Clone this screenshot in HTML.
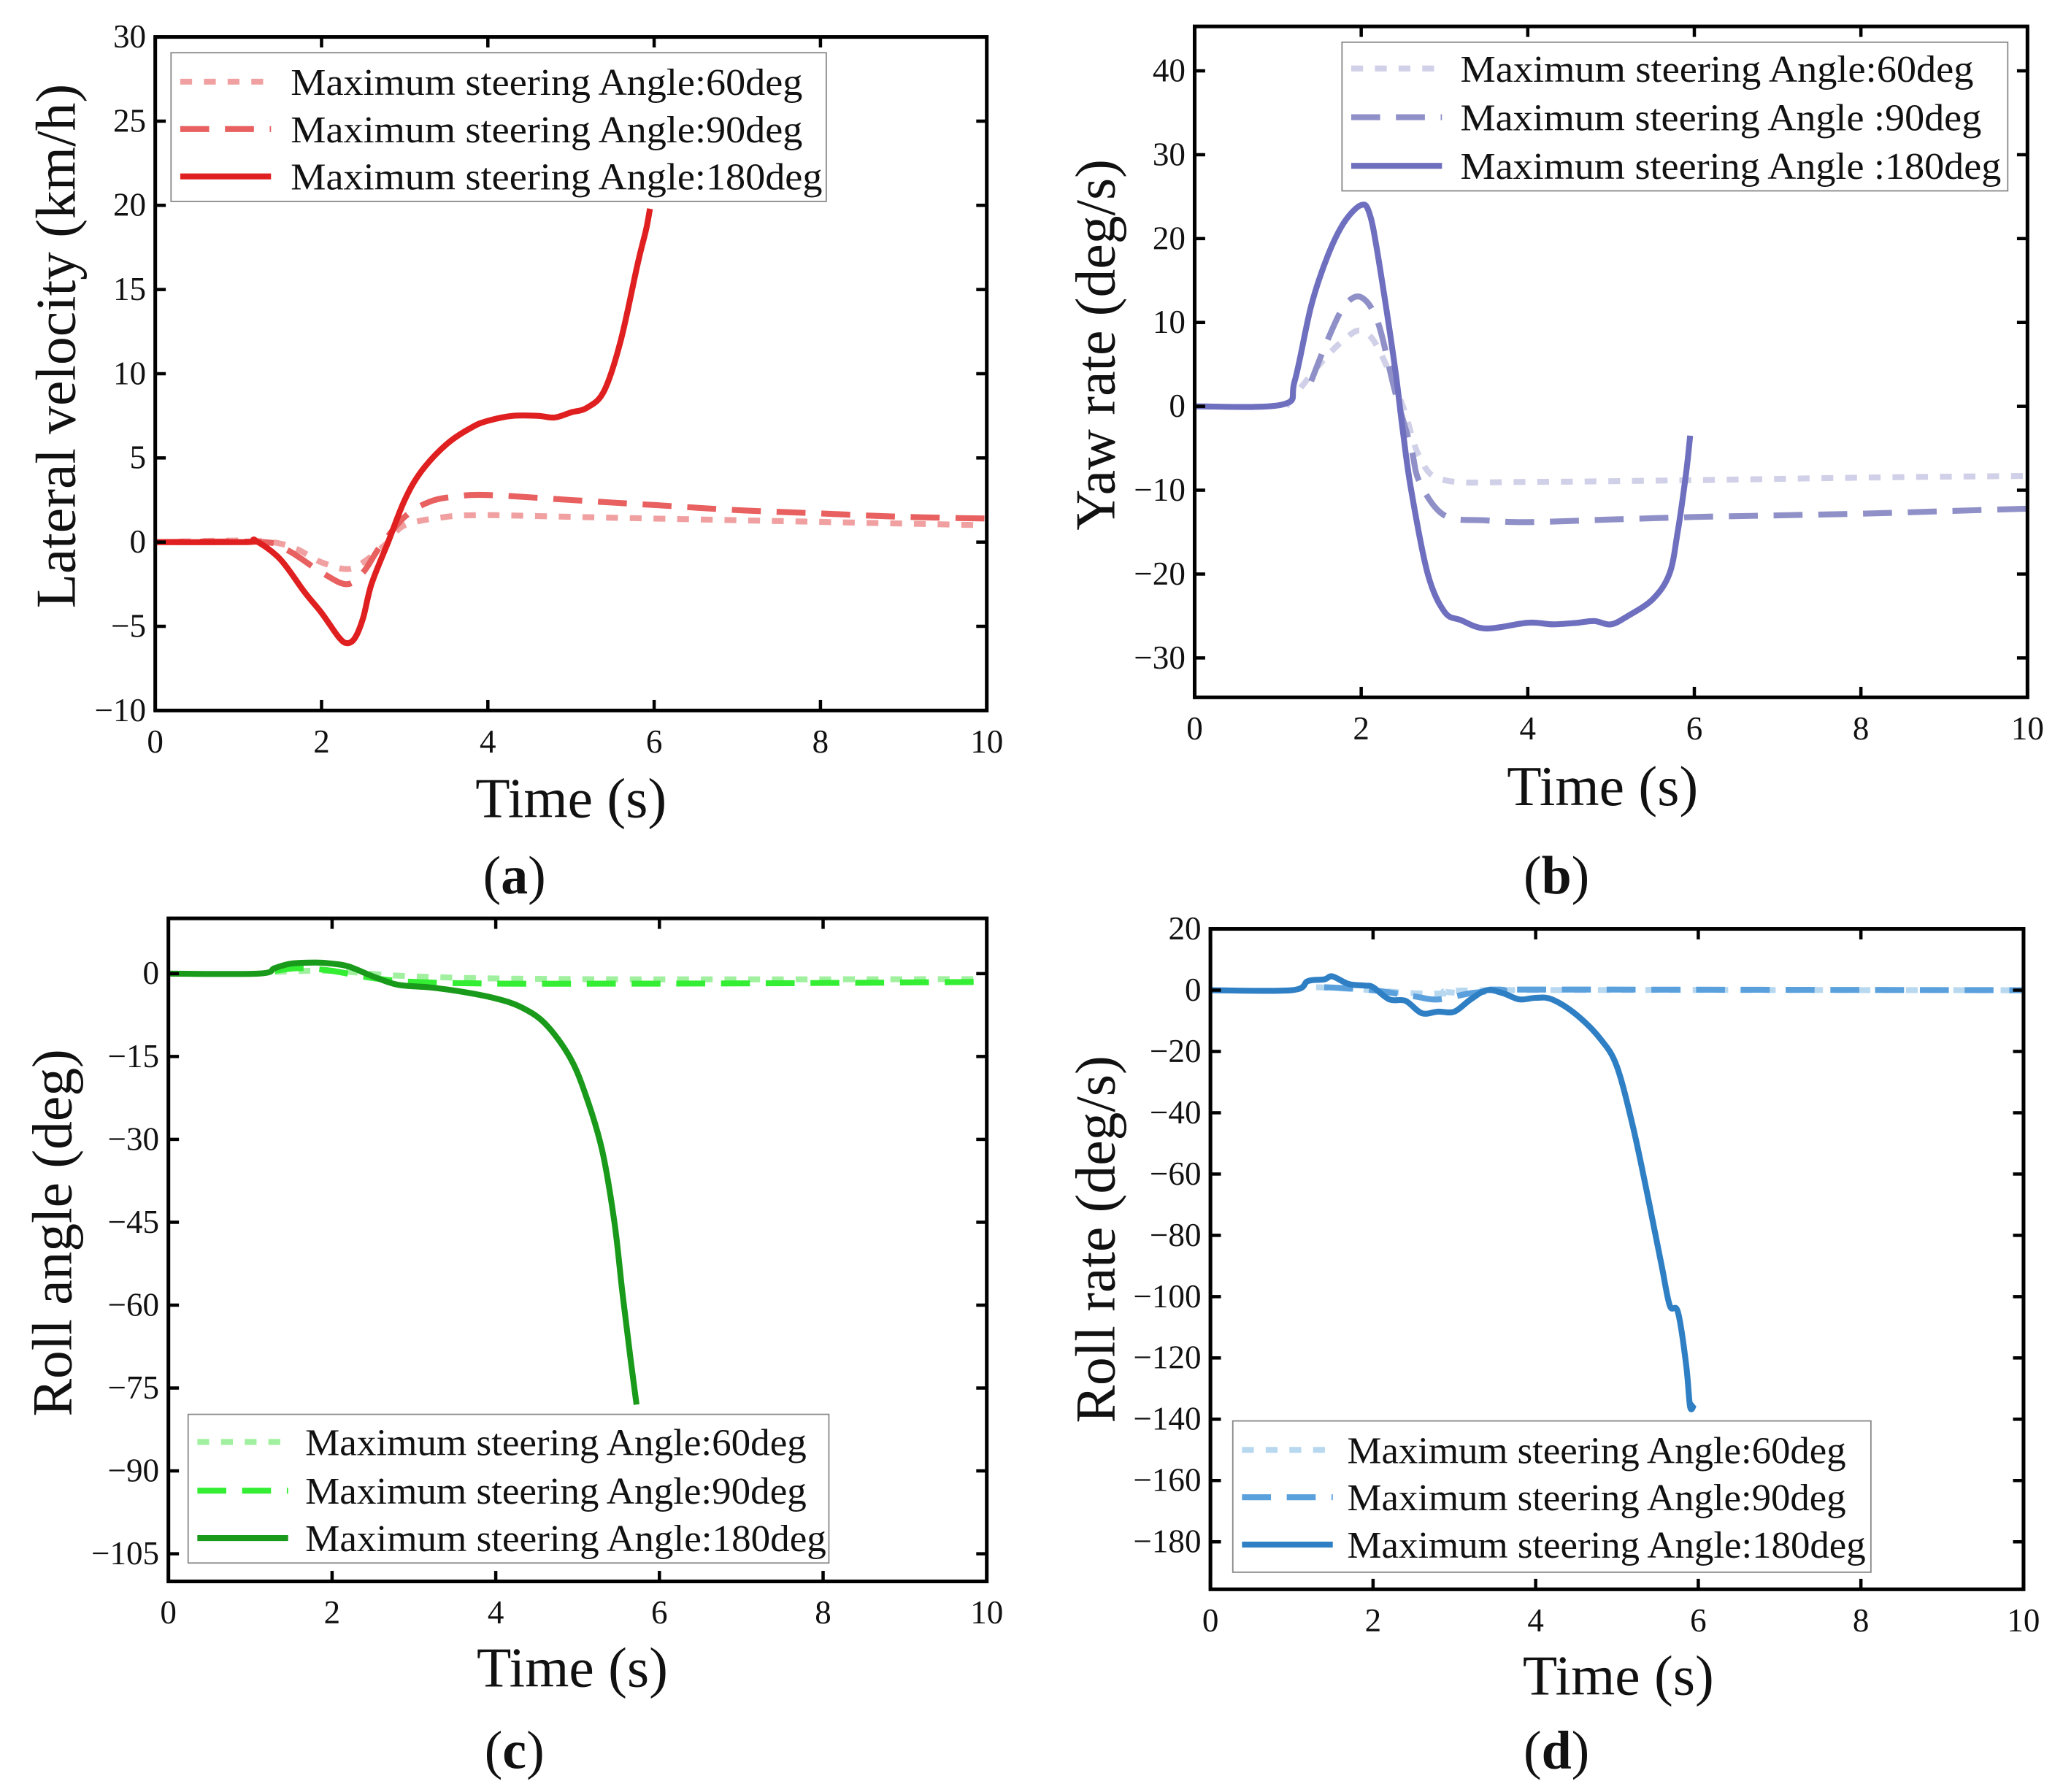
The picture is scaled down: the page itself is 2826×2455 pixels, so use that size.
<!DOCTYPE html>
<html><head><meta charset="utf-8"><style>
html,body{margin:0;padding:0;background:#fff}
svg{display:block}
text{font-family:"Liberation Serif",serif;fill:#111}
</style></head><body>
<svg id="fig" width="2826" height="2455" viewBox="0 0 1568 1362" xmlns="http://www.w3.org/2000/svg"></svg>
<script>
// ---- data ----
const aT180=[0,1.1,1.2,1.5,1.8,2.0,2.2,2.3,2.4,2.5,2.6,2.8,3.0,3.2,3.5,3.8,4.0,4.3,4.6,4.8,5.0,5.2,5.4,5.6,5.8,5.9,5.95];
const aV180=[0,0,0.1,-1,-3,-4.2,-5.6,-6,-5.7,-4.5,-2.5,0,2.5,4.2,5.8,6.8,7.2,7.5,7.5,7.4,7.7,8,9,12,16.5,18.5,19.8];
const aT90=[0,1.3,1.6,2.0,2.3,2.5,2.7,3.0,3.3,3.6,4.0,5,6,7,8,9,10];
const aV90=[0,0,-0.5,-1.8,-2.5,-1.8,-0.3,1.5,2.4,2.7,2.8,2.5,2.2,1.9,1.7,1.5,1.4];
const aT60=[0,1.4,2.0,2.3,2.5,2.8,3.0,3.5,4,5,6,7,8,9,10];
const aV60=[0,0,-1.2,-1.6,-1.2,0,1.0,1.5,1.6,1.5,1.4,1.3,1.2,1.1,1.0];

const bT180=[0,1.05,1.2,1.4,1.6,1.8,2.0,2.1,2.2,2.4,2.5,2.6,2.8,3.0,3.2,3.5,4.0,4.3,4.6,4.8,5.0,5.2,5.5,5.7,5.8,5.9,5.95];
const bV180=[0,0.2,3,12,18,22,24,23,18,5,-3,-10,-20,-24.5,-25.5,-26.5,-25.8,-26,-25.8,-25.6,-26,-25,-23,-20,-15,-8,-3.5];
const bT90=[1.4,1.6,1.8,2.0,2.2,2.4,2.6,2.7,3.0,3.5,4,5,6,7,8,9,10];
const bV90=[3,8,12,13,10,2,-5,-9,-13,-13.6,-13.8,-13.5,-13.2,-13,-12.8,-12.5,-12.2];
const bT60=[1.1,1.5,1.8,2.0,2.2,2.5,2.7,3.0,4,6,8,10];
const bV60=[0,5,8,9,7,0,-6,-8.8,-9,-8.8,-8.5,-8.3];

const cT180=[0,1.1,1.3,1.5,1.8,2.0,2.2,2.5,2.8,3.2,3.6,4.0,4.3,4.6,4.9,5.1,5.3,5.45,5.55,5.65,5.72];
const cV180=[0,0,1,1.8,2,1.8,1.3,-0.5,-2,-2.5,-3.3,-4.5,-6,-9,-15,-22,-32,-45,-58,-70,-78];
const cT90=[1.3,1.6,2.0,2.5,3,4,6,8,10];
const cV90=[0.5,1,0.5,-0.8,-1.5,-1.8,-1.8,-1.7,-1.5];
const cT60=[1.3,2,3,5,10];
const cV60=[0.3,0.5,-0.5,-1,-1];

const dT180=[0,1.0,1.2,1.4,1.5,1.7,1.9,2.0,2.2,2.4,2.6,2.8,3.0,3.2,3.4,3.6,3.8,4.0,4.2,4.5,4.8,5.0,5.2,5.4,5.55,5.65,5.75,5.85,5.9,5.95];
const dV180=[0,0,3,3.5,4.5,2,1.5,1,-3,-3.5,-7.5,-7,-7,-3,0,-1,-3,-2.5,-3,-8,-16,-25,-45,-70,-90,-103,-105,-122,-136,-135];
const dT90=[1.4,2,2.5,2.8,3.2,3.6,4,10];
const dV90=[1,0,-2,-3,-1,0,0.2,0];
const dT60=[1.3,2,2.5,3,3.5,10];
const dV60=[1,0,-1,-1,0,0];

const xTicks=[0,2,4,6,8,10];
const aYTicks=[-10,-5,0,5,10,15,20,25,30];
const bYTicks=[-30,-20,-10,0,10,20,30,40];
const cYTicks=[0,-15,-30,-45,-60,-75,-90,-105];
const dYTicks=[20,0,-20,-40,-60,-80,-100,-120,-140,-160,-180];
const legLabels=["Maximum steering Angle:60deg","Maximum steering Angle:90deg","Maximum steering Angle:180deg"];
const legLabelsB=["Maximum steering Angle:60deg","Maximum steering Angle :90deg","Maximum steering Angle :180deg"];

const NS="http://www.w3.org/2000/svg";
const svg=document.getElementById('fig');
function mk(tag,attrs,parent){const e=document.createElementNS(NS,tag);for(const k in attrs)e.setAttribute(k,attrs[k]);(parent||svg).appendChild(e);return e;}
function fmt(v){return v<0?'\u2212'+(-v):String(v);}
function smooth(pts){
  let d='M'+pts[0][0].toFixed(1)+','+pts[0][1].toFixed(1);
  for(let i=0;i<pts.length-1;i++){
    const p0=pts[Math.max(0,i-1)],p1=pts[i],p2=pts[i+1],p3=pts[Math.min(pts.length-1,i+2)];
    const c1=[p1[0]+(p2[0]-p0[0])/6,p1[1]+(p2[1]-p0[1])/6];
    const c2=[p2[0]-(p3[0]-p1[0])/6,p2[1]-(p3[1]-p1[1])/6];
    d+=' C'+c1.map(v=>v.toFixed(1))+' '+c2.map(v=>v.toFixed(1))+' '+p2.map(v=>v.toFixed(1));
  }
  return d;
}

function panel(p){
  const g=mk('g',{});
  
  
  const sx=v=>p.x0+(v-0)/(10-0)*(p.x1-p.x0);
  const sy=v=>p.yTop+(p.yMax-v)/(p.yMax-p.yMin)*(p.yBot-p.yTop);
  p.series.forEach((s,i)=>{
    const pts=s.t.map((t,j)=>[sx(t),sy(s.v[j])]);
    const path=mk('path',{d:smooth(pts),fill:'none',stroke:s.color,'stroke-width':s.w,'stroke-dasharray':s.dash||'none','stroke-linejoin':'round'},g);
    
    
  });
  const fr=mk('rect',{x:p.x0,y:p.yTop,width:p.x1-p.x0,height:p.yBot-p.yTop,fill:'none',stroke:'#000','stroke-width':2.8},g);
  
  
  xTicks.forEach(t=>{
    const x=sx(t);
    mk('line',{x1:x,x2:x,y1:p.yBot,y2:p.yBot-8,stroke:'#000','stroke-width':2.5},g);
    mk('line',{x1:x,x2:x,y1:p.yTop,y2:p.yTop+8,stroke:'#000','stroke-width':2.5},g);
    const tx=mk('text',{x:x,y:p.yBot+32,'text-anchor':'middle','font-size':25},g);
    tx.textContent=String(t);
    
    
  });
  p.yTicks.forEach(t=>{
    const y=sy(t);
    mk('line',{x1:p.x0,x2:p.x0+8,y1:y,y2:y,stroke:'#000','stroke-width':2.5},g);
    mk('line',{x1:p.x1,x2:p.x1-8,y1:y,y2:y,stroke:'#000','stroke-width':2.5},g);
    const ty=mk('text',{x:p.x0-7,y:y+8,'text-anchor':'end','font-size':25},g);
    ty.textContent=fmt(t);
    
    
  });
  const xt=mk('text',{x:p.xtx,y:p.xty,'text-anchor':'middle','font-size':43},g);
  xt.textContent='Time (s)';
  
  
  const yt=mk('text',{x:0,y:0,'text-anchor':'middle','font-size':43,transform:`translate(${p.ytx},${p.yty}) rotate(-90)`},g);
  yt.textContent=p.ytitle;
  
  
  const lb=mk('text',{x:p.labx,y:p.laby,'text-anchor':'middle','font-size':41},g);
  lb.innerHTML='(<tspan font-weight="bold">'+p.label+'</tspan>)';
  
  
  const L=p.leg;
  const lg=mk('g',{},g);
  
  
  mk('rect',{x:L.x,y:L.y,width:L.w,height:L.h,fill:'#fff',stroke:'#888','stroke-width':1},lg);
  p.series.forEach((s,i)=>{
    const yy=L.ys[i];
    const ll=mk('line',{x1:L.x+7,x2:L.x+76,y1:yy,y2:yy,stroke:s.color,'stroke-width':s.w,'stroke-dasharray':s.dash||'none'},lg);
    
    
    const lt=mk('text',{x:L.x+L.tx,y:yy+10,'font-size':29,textLength:L.tl[i],lengthAdjust:'spacingAndGlyphs'},lg);
    lt.textContent=p.labels[i];
    
    
  });
}

panel({name:'panel-a-lateral-velocity',x0:118,x1:750,yTop:28,yBot:540,yMin:-10,yMax:30,yTicks:aYTicks,
  ytitle:'Lateral velocity (km/h)',ytx:57,yty:263,xtx:434,xty:621,label:'a',labx:391,laby:679,labels:legLabels,
  leg:{x:130,y:40,w:498,h:113,ys:[62,98,134],tx:91,tl:[389,389,404]},
  series:[{name:'series-60deg',t:aT60,v:aV60,color:'#f0a0a0',w:4.5,dash:'9 9'},
          {name:'series-90deg',t:aT90,v:aV90,color:'#e86060',w:4.5,dash:'22 12'},
          {name:'series-180deg',t:aT180,v:aV180,color:'#e02020',w:4.5}]});
panel({name:'panel-b-yaw-rate',x0:908,x1:1541,yTop:20,yBot:530,yMin:-34.7,yMax:45.3,yTicks:bYTicks,
  ytitle:'Yaw rate (deg/s)',ytx:847,yty:262,xtx:1218,xty:612,label:'b',labx:1183,laby:679,labels:legLabelsB,
  leg:{x:1020,y:32,w:506,h:113,ys:[52,89,126],tx:90,tl:[390,396,411]},
  series:[{name:'series-60deg',t:bT60,v:bV60,color:'#d0d0e8',w:4.5,dash:'9 9'},
          {name:'series-90deg',t:bT90,v:bV90,color:'#9090c8',w:4.5,dash:'22 12'},
          {name:'series-180deg',t:bT180,v:bV180,color:'#6f6fbf',w:4.5}]});
panel({name:'panel-c-roll-angle',x0:128,x1:750,yTop:698,yBot:1202,yMin:-110,yMax:10,yTicks:cYTicks,
  ytitle:'Roll angle (deg)',ytx:54,yty:937,xtx:435,xty:1282,label:'c',labx:391,laby:1344,labels:legLabels,
  leg:{x:143,y:1075,w:487,h:113,ys:[1096,1133,1169],tx:89,tl:[381,381,396]},
  series:[{name:'series-60deg',t:cT60,v:cV60,color:'#a0f0a0',w:4.5,dash:'9 9'},
          {name:'series-90deg',t:cT90,v:cV90,color:'#33ee33',w:4.5,dash:'22 12'},
          {name:'series-180deg',t:cT180,v:cV180,color:'#1a9a1a',w:4.5}]});
panel({name:'panel-d-roll-rate',x0:920,x1:1538,yTop:706,yBot:1208,yMin:-195.5,yMax:20,yTicks:dYTicks,
  ytitle:'Roll rate (deg/s)',ytx:847,yty:942,xtx:1230,xty:1288,label:'d',labx:1183,laby:1344,labels:legLabels,
  leg:{x:937,y:1080,w:485,h:115,ys:[1102,1138,1174],tx:87,tl:[379,379,394]},
  series:[{name:'series-60deg',t:dT60,v:dV60,color:'#b8d8f0',w:4.5,dash:'9 9'},
          {name:'series-90deg',t:dT90,v:dV90,color:'#5aa0dc',w:4.5,dash:'22 12'},
          {name:'series-180deg',t:dT180,v:dV180,color:'#2f7fc4',w:4.5}]});
</script>
</body></html>
